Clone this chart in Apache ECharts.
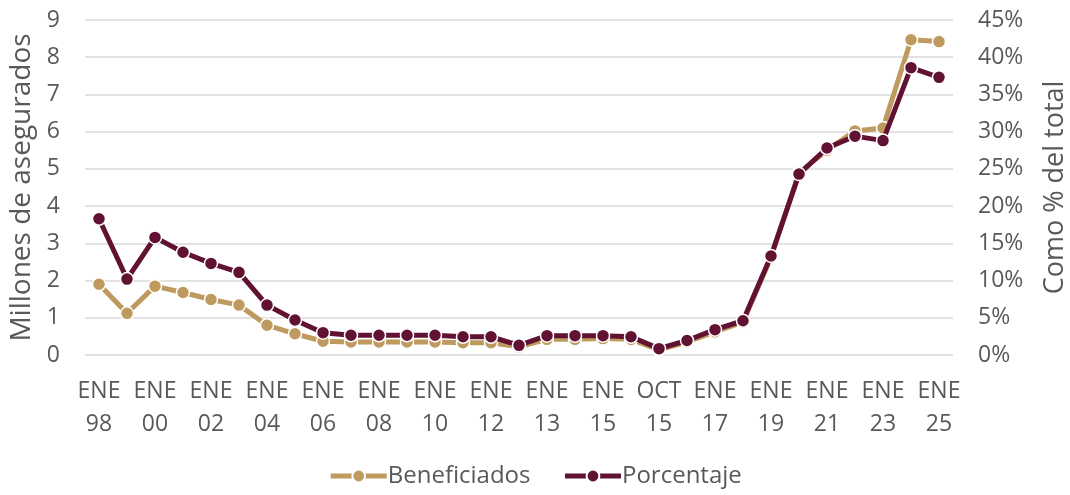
<!DOCTYPE html>
<html>
<head>
<meta charset="utf-8">
<script src="https://cdn.jsdelivr.net/npm/echarts@6/dist/echarts.min.js"></script>
<style>
  html, body { margin: 0; padding: 0; background: #fff; }
  #chart { width: 1070px; height: 495px; }
</style>
</head>
<body>
<div id="chart"></div>
<script>
// Periods (every other one is labelled on the axis)
const categories = [
  'ENE 98', 'ENE 99', 'ENE 00', 'ENE 01', 'ENE 02', 'ENE 03', 'ENE 04', 'ENE 05',
  'ENE 06', 'ENE 07', 'ENE 08', 'ENE 09', 'ENE 10', 'ENE 11', 'ENE 12', 'JUL 12',
  'ENE 13', 'ENE 14', 'ENE 15', 'JUL 15', 'OCT 15', 'ENE 16', 'ENE 17', 'ENE 18',
  'ENE 19', 'ENE 20', 'ENE 21', 'ENE 22', 'ENE 23', 'ENE 24', 'ENE 25'
];

// Beneficiaries, millions of insured people
const beneficiados = [
  1.90, 1.12, 1.85, 1.68, 1.49, 1.34, 0.80, 0.57,
  0.37, 0.35, 0.35, 0.35, 0.35, 0.33, 0.33, 0.22,
  0.42, 0.42, 0.44, 0.42, 0.14, 0.35, 0.62, 0.88,
  2.62, 4.90, 5.50, 6.02, 6.10, 8.47, 8.42
];

// Share of the total, percent
const porcentaje = [
  18.3, 10.2, 15.8, 13.8, 12.3, 11.1, 6.7, 4.7,
  3.0, 2.65, 2.65, 2.65, 2.65, 2.45, 2.45, 1.3,
  2.6, 2.6, 2.6, 2.45, 0.85, 1.95, 3.4, 4.6,
  13.3, 24.3, 27.8, 29.4, 28.8, 38.6, 37.3
];

const leftTicks = { min: 0, max: 9, interval: 1 };
const rightTicks = { min: 0, max: 45, interval: 5 };

const TAN = '#BF9A5E';
const MAROON = '#611232';
const TEXT = '#595959';
const FONT = 'Open Sans';

const chart = echarts.init(document.getElementById('chart'), null, { renderer: 'canvas' });

const lineSeries = (name, data, color, yAxisIndex, z) => ({
  name: name,
  type: 'line',
  data: data,
  yAxisIndex: yAxisIndex,
  z: z,
  symbol: 'circle',
  symbolSize: 13,
  lineStyle: { color: color, width: 5 },
  itemStyle: { color: color, borderColor: '#ffffff', borderWidth: 1.5 },
  emphasis: { disabled: true },
  animation: false
});

chart.setOption({
  backgroundColor: '#ffffff',
  textStyle: { fontFamily: FONT },
  // fixed plot rectangle; axis names may sit close to the edges
  grid: { left: 85, right: 117, top: 20, bottom: 140, containLabel: false, outerBoundsMode: 'none' },
  legend: {
    bottom: 2,
    left: 'center',
    itemWidth: 56,
    itemHeight: 16,
    itemGap: 32,
    lineStyle: { width: 5 },
    textStyle: { color: TEXT, fontSize: 24, fontFamily: FONT, padding: [0, 0, 0, -4] },
    data: ['Beneficiados', 'Porcentaje']
  },
  xAxis: {
    type: 'category',
    data: categories,
    boundaryGap: true,
    axisLine: { show: false },
    axisTick: { show: false },
    axisLabel: {
      interval: 1,
      color: TEXT,
      fontSize: 23,
      fontFamily: FONT,
      lineHeight: 33,
      margin: 20,
      formatter: v => v.replace(' ', '\n')
    }
  },
  yAxis: [
    {
      type: 'value',
      min: leftTicks.min, max: leftTicks.max, interval: leftTicks.interval,
      name: 'Millones de asegurados',
      nameLocation: 'middle',
      nameGap: 41,
      nameTextStyle: { color: TEXT, fontSize: 28, fontFamily: FONT },
      axisLine: { show: false },
      axisTick: { show: false },
      axisLabel: { color: TEXT, fontSize: 23, fontFamily: FONT, margin: 25 },
      splitLine: { lineStyle: { color: '#D9D9D9', width: 1.5 } }
    },
    {
      type: 'value',
      min: rightTicks.min, max: rightTicks.max, interval: rightTicks.interval,
      name: 'Como % del total',
      nameLocation: 'middle',
      nameGap: 89,
      nameRotate: 90,
      nameTextStyle: { color: TEXT, fontSize: 27, fontFamily: FONT },
      axisLine: { show: false },
      axisTick: { show: false },
      axisLabel: { color: TEXT, fontSize: 23, fontFamily: FONT, margin: 25, formatter: '{value}%' },
      splitLine: { show: false }
    }
  ],
  series: [
    lineSeries('Beneficiados', beneficiados, TAN, 0, 2),
    lineSeries('Porcentaje', porcentaje, MAROON, 1, 3)
  ]
});
</script>
</body>
</html>
